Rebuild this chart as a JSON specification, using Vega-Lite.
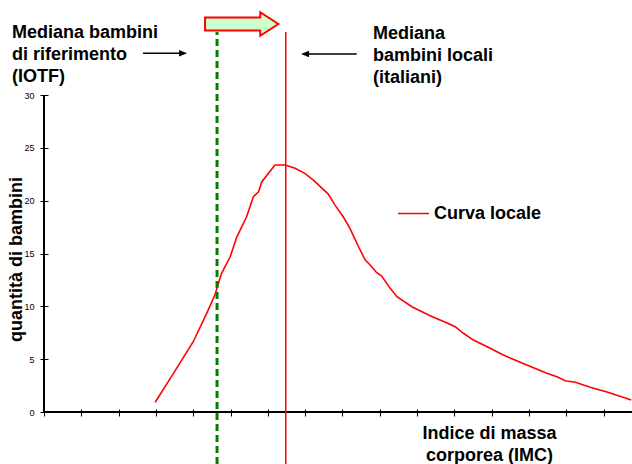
{
  "$schema": "https://vega.github.io/schema/vega-lite/v6.json",
  "width": 588,
  "height": 317,
  "autosize": {"type": "none"},
  "padding": {"left": 44, "top": 95, "right": 0, "bottom": 52},
  "background": "white",
  "config": {"view": {"stroke": null}, "font": "Liberation Sans"},
  "data": {"values": [{}]},
  "datasets": {
    "curve": [
      {"imc": 2.98, "bambini": 0.92},
      {"imc": 3.47, "bambini": 3.66},
      {"imc": 4.00, "bambini": 6.65},
      {"imc": 4.36, "bambini": 9.34},
      {"imc": 4.58, "bambini": 11.07},
      {"imc": 4.76, "bambini": 13.12},
      {"imc": 4.99, "bambini": 14.69},
      {"imc": 5.17, "bambini": 16.58},
      {"imc": 5.43, "bambini": 18.48},
      {"imc": 5.61, "bambini": 20.37},
      {"imc": 5.75, "bambini": 20.84},
      {"imc": 5.84, "bambini": 21.79},
      {"imc": 6.01, "bambini": 22.58},
      {"imc": 6.19, "bambini": 23.37},
      {"imc": 6.46, "bambini": 23.37},
      {"imc": 6.73, "bambini": 23.06},
      {"imc": 6.99, "bambini": 22.58},
      {"imc": 7.22, "bambini": 21.95},
      {"imc": 7.62, "bambini": 20.62},
      {"imc": 7.80, "bambini": 19.58},
      {"imc": 8.02, "bambini": 18.48},
      {"imc": 8.20, "bambini": 17.38},
      {"imc": 8.43, "bambini": 15.64},
      {"imc": 8.61, "bambini": 14.38},
      {"imc": 8.74, "bambini": 13.91},
      {"imc": 8.92, "bambini": 13.18},
      {"imc": 9.05, "bambini": 12.87},
      {"imc": 9.28, "bambini": 11.70},
      {"imc": 9.46, "bambini": 10.91},
      {"imc": 9.86, "bambini": 9.96},
      {"imc": 10.35, "bambini": 9.11},
      {"imc": 10.88, "bambini": 8.30},
      {"imc": 11.02, "bambini": 8.07},
      {"imc": 11.24, "bambini": 7.45},
      {"imc": 11.51, "bambini": 6.81},
      {"imc": 11.96, "bambini": 6.03},
      {"imc": 12.31, "bambini": 5.39},
      {"imc": 12.94, "bambini": 4.45},
      {"imc": 13.48, "bambini": 3.66},
      {"imc": 13.75, "bambini": 3.34},
      {"imc": 13.97, "bambini": 2.96},
      {"imc": 14.24, "bambini": 2.81},
      {"imc": 14.64, "bambini": 2.34},
      {"imc": 15.09, "bambini": 1.89},
      {"imc": 15.74, "bambini": 1.14}
    ]
  },
  "layer": [
    {
      "data": {"name": "curve"},
      "mark": {"type": "line", "strokeWidth": 1.6},
      "encoding": {
        "x": {
          "field": "imc", "type": "quantitative",
          "scale": {"domain": [0, 15.76], "nice": false, "zero": false},
          "axis": {
            "values": [0, 1, 2, 3, 4, 5, 6, 7, 8, 9, 10, 11, 12, 13, 14, 15],
            "tickCount": 40,
            "labels": false, "labelOverlap": false, "domain": false, "grid": false,
            "tickSize": 7, "tickColor": "black", "tickWidth": 1, "offset": -3,
            "title": ["Indice di massa", "corporea (IMC)"],
            "titleFontSize": 18, "titleFontWeight": "bold", "titleColor": "black",
            "titleX": 445, "titleY": 29, "titleAlign": "center", "titleBaseline": "alphabetic",
            "titleLineHeight": 22
          }
        },
        "y": {
          "field": "bambini", "type": "quantitative",
          "scale": {"domain": [0, 30], "nice": false},
          "axis": {
            "values": [0, 5, 10, 15, 20, 25, 30],
            "tickCount": 20,
            "grid": false, "domain": false,
            "tickSize": 8, "tickColor": "black", "tickWidth": 1, "offset": -4,
            "labelPadding": 6, "labelFontSize": 9, "labelColor": "black",
            "title": "quantità di bambini",
            "titleFontSize": 18, "titleFontWeight": "bold", "titleColor": "black",
            "titleX": -32, "titleY": 164, "titleAngle": 270,
            "titleAlign": "center", "titleBaseline": "middle"
          }
        },
        "color": {
          "datum": "Curva locale",
          "scale": {"range": ["#ff0000"]},
          "legend": {
            "title": null, "orient": "none", "legendX": 353, "legendY": 102,
            "symbolType": "stroke", "symbolSize": 961, "symbolStrokeWidth": 1.5,
            "labelFontSize": 18, "labelFontWeight": "bold", "labelColor": "black",
            "labelOffset": 4, "padding": 0
          }
        }
      }
    },
    {
      "mark": {"type": "rule", "stroke": "black", "strokeWidth": 2},
      "encoding": {"y": {"datum": 0, "type": "quantitative"}}
    },
    {
      "mark": {"type": "rule", "stroke": "black", "strokeWidth": 2},
      "encoding": {"x": {"datum": 0, "type": "quantitative"}}
    },
    {
      "mark": {"type": "rule", "stroke": "#008000", "strokeWidth": 3, "strokeDash": [7, 4]},
      "encoding": {
        "x": {"datum": 4.638, "type": "quantitative"},
        "y": {"datum": -4.92, "type": "quantitative"},
        "y2": {"datum": 35.96}
      }
    },
    {
      "mark": {"type": "rule", "stroke": "#ff0000", "strokeWidth": 1.5},
      "encoding": {
        "x": {"datum": 6.48, "type": "quantitative"},
        "y": {"datum": -4.92, "type": "quantitative"},
        "y2": {"datum": 35.96}
      }
    },
    {
      "mark": {
        "type": "point",
        "shape": "M-1,-0.18L0.507,-0.18L0.507,-0.32L1,0L0.507,0.32L0.507,0.18L-1,0.18Z",
        "size": 5373, "filled": true, "fill": "#ccffcc", "stroke": "#ff0000",
        "strokeWidth": 2, "fillOpacity": 1, "strokeOpacity": 1
      },
      "encoding": {
        "x": {"datum": 5.299, "type": "quantitative"},
        "y": {"datum": 36.72, "type": "quantitative"}
      }
    },
    {
      "mark": {"type": "rule", "stroke": "black", "strokeWidth": 1.7},
      "encoding": {
        "x": {"datum": 2.654, "type": "quantitative"},
        "x2": {"datum": 3.727},
        "y": {"datum": 33.95, "type": "quantitative"}
      }
    },
    {
      "mark": {"type": "point", "shape": "M-1,-0.8L1,0L-1,0.8Z", "size": 64, "filled": true, "color": "black", "opacity": 1},
      "encoding": {
        "x": {"datum": 3.727, "type": "quantitative"},
        "y": {"datum": 33.95, "type": "quantitative"}
      }
    },
    {
      "mark": {"type": "rule", "stroke": "black", "strokeWidth": 1.7},
      "encoding": {
        "x": {"datum": 6.997, "type": "quantitative"},
        "x2": {"datum": 8.383},
        "y": {"datum": 33.88, "type": "quantitative"}
      }
    },
    {
      "mark": {"type": "point", "shape": "M1,-0.8L-1,0L1,0.8Z", "size": 64, "filled": true, "color": "black", "opacity": 1},
      "encoding": {
        "x": {"datum": 6.997, "type": "quantitative"},
        "y": {"datum": 33.88, "type": "quantitative"}
      }
    },
    {
      "mark": {
        "type": "text", "align": "left", "baseline": "alphabetic",
        "fontSize": 18, "fontWeight": "bold", "lineBreak": "\n", "lineHeight": 22, "color": "black"
      },
      "encoding": {
        "x": {"datum": -0.858, "type": "quantitative"},
        "y": {"datum": 35.35, "type": "quantitative"},
        "text": {"value": "Mediana bambini\ndi riferimento\n(IOTF)"}
      }
    },
    {
      "mark": {
        "type": "text", "align": "left", "baseline": "alphabetic",
        "fontSize": 18, "fontWeight": "bold", "lineBreak": "\n", "lineHeight": 22, "color": "black"
      },
      "encoding": {
        "x": {"datum": 8.82, "type": "quantitative"},
        "y": {"datum": 35.27, "type": "quantitative"},
        "text": {"value": "Mediana\nbambini locali\n(italiani)"}
      }
    }
  ]
}
